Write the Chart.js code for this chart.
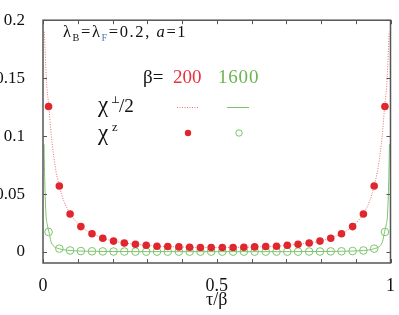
<!DOCTYPE html>
<html>
<head>
<meta charset="utf-8">
<script src="https://cdn.jsdelivr.net/npm/chart.js@4.4.1/dist/chart.umd.min.js"></script>
<style>body{margin:0;background:#fff}</style>
</head>
<body>
<canvas id="myChart" width="399" height="315"></canvas>
<script>
// tau/beta positions of the chi^z symbols
const tauPts = [0.016,0.047,0.078,0.109,0.141,0.172,0.203,0.234,0.266,0.297,0.328,0.359,0.391,0.422,0.453,0.484,
                0.516,0.547,0.578,0.609,0.641,0.672,0.703,0.734,0.766,0.797,0.828,0.859,0.891,0.922,0.953,0.984];
const chiz200 = [0.1256,0.0569,0.0328,0.0219,0.0158,0.0119,0.0094,0.0078,0.0067,0.0058,0.0050,0.0047,0.0044,0.0041,0.0039,0.0038,
                 0.0038,0.0039,0.0041,0.0044,0.0047,0.0050,0.0058,0.0067,0.0078,0.0094,0.0119,0.0158,0.0219,0.0328,0.0569,0.1256];
const chiz1600 = [0.0173,0.0029,0.0013,0.0008,0.0006,0.0005,0.0004,0.0004,0.0003,0.0003,0.0003,0.0003,0.0003,0.0003,0.0003,0.0003,
                  0.0003,0.0003,0.0003,0.0003,0.0003,0.0003,0.0003,0.0003,0.0004,0.0004,0.0005,0.0006,0.0008,0.0013,0.0029,0.0173];

// chi_perp/2 curves
const tauLine200 = [0.004,0.0095,0.017,0.024,0.035,0.047,0.06,0.078,0.093,0.109,0.141,0.172,0.203,0.234,0.266,0.297,0.328,0.359,0.391,0.422,0.453,
                    0.5,
                    0.547,0.578,0.609,0.641,0.672,0.703,0.734,0.766,0.797,0.828,0.859,0.891,0.907,0.922,0.94,0.953,0.965,0.976,0.983,0.9905,0.996];
const chiPerp200 = [0.19,0.15,0.125,0.10,0.074,0.057,0.044,0.033,0.027,0.022,0.016,0.012,0.0094,0.0078,0.0067,0.0058,0.005,0.0047,0.0044,0.0041,0.0039,
                    0.0038,
                    0.0039,0.0041,0.0044,0.0047,0.005,0.0058,0.0067,0.0078,0.0094,0.012,0.016,0.022,0.027,0.033,0.044,0.057,0.074,0.10,0.125,0.15,0.19];
const tauLine1600 = [0.003,0.005,0.0086,0.012,0.017,0.023,0.029,0.047,0.078,0.109,0.141,0.2,0.3,0.4,
                     0.5,
                     0.6,0.7,0.8,0.859,0.891,0.922,0.953,0.971,0.977,0.983,0.988,0.9914,0.995,0.997];
const chiPerp1600 = [0.093,0.062,0.032,0.024,0.0175,0.009,0.0056,0.0028,0.0013,0.0008,0.0006,0.0004,0.0003,0.0003,
                     0.0003,
                     0.0003,0.0003,0.0004,0.0006,0.0008,0.0013,0.0028,0.0056,0.009,0.0175,0.024,0.032,0.062,0.093];

const xTicks = [0,0.1,0.2,0.3,0.4,0.5,0.6,0.7,0.8,0.9,1];
const xLabels = {0:'0', 0.5:'0.5', 1:'1'};
const yTicks = [0,0.05,0.1,0.15,0.2];
const yLabels = ['0','0.05','0.1','0.15','0.2'];

const RED = '#e0262c', GREEN = '#7cc46c';
const SERIF = '"Liberation Serif", "DejaVu Serif", serif';
Chart.defaults.font.family = SERIF;
Chart.defaults.color = '#111';

function pts(xs, ys) { return xs.map((v, i) => ({x: v, y: ys[i]})); }

function runs(ctx, x, y, size, parts, spacing) {
  ctx.letterSpacing = (spacing || 0) + 'px';
  parts.forEach(p => {
    const s = size * (p.scale || 1);
    ctx.font = (p.italic ? 'italic ' : '') + s + 'px ' + SERIF;
    ctx.fillStyle = p.color || '#111';
    if (p.at !== undefined) x = p.at;
    ctx.fillText(p.t, x, y + (p.dy || 0));
    x += ctx.measureText(p.t).width;
  });
  ctx.letterSpacing = '0px';
}

const frame = {
  id: 'frame',
  afterDraw(chart) {
    const {ctx, chartArea: a, scales: {x, y}} = chart;
    ctx.save();
    ctx.strokeStyle = '#555';
    ctx.lineWidth = 1;
    xTicks.forEach(v => {
      const px = Math.round(x.getPixelForValue(v)) + 0.5;
      ctx.beginPath();
      ctx.moveTo(px, a.bottom); ctx.lineTo(px, a.bottom - 4);
      ctx.moveTo(px, a.top); ctx.lineTo(px, a.top + 4);
      ctx.stroke();
    });
    yTicks.forEach(v => {
      const py = Math.round(y.getPixelForValue(v)) + 0.5;
      ctx.beginPath();
      ctx.moveTo(a.left, py); ctx.lineTo(a.left + 4, py);
      ctx.moveTo(a.right, py); ctx.lineTo(a.right - 4, py);
      ctx.stroke();
    });
    ctx.lineWidth = 1.5;
    ctx.strokeRect(a.left, a.top, a.right - a.left, a.bottom - a.top);

    ctx.textBaseline = 'alphabetic';
    runs(ctx, 63, 37, 16.5, [
      {t: 'λ'}, {t: 'B', scale: 0.62, dy: 4}, {t: '=λ'}, {t: 'F', scale: 0.62, dy: 4, color: '#4a78b8'},
      {t: '=0.2, '}, {t: 'a', italic: true}, {t: '=1'}
    ], 1.6);
    runs(ctx, 143, 83, 19, [{t: 'β= '}]);
    runs(ctx, 173, 83, 19, [{t: '200', color: '#e8323c'}]);
    runs(ctx, 218, 83, 19, [{t: '1600', color: '#6bb54f'}], 0.8);
    runs(ctx, 98, 112, 23, [{t: 'χ'}, {t: '⊥', scale: 0.42, dy: -9, at: 111}, {t: '/2', scale: 0.83, at: 119}]);
    runs(ctx, 98, 140, 23, [{t: 'χ'}, {t: 'z', scale: 0.55, dy: -9, at: 112}]);

    // legend samples
    ctx.lineWidth = 1;
    ctx.strokeStyle = 'rgba(230,60,70,0.75)';
    ctx.setLineDash([1, 1.5]);
    ctx.beginPath(); ctx.moveTo(177, 107.5); ctx.lineTo(199, 107.5); ctx.stroke();
    ctx.setLineDash([]);
    ctx.strokeStyle = GREEN;
    ctx.beginPath(); ctx.moveTo(227, 107.5); ctx.lineTo(249, 107.5); ctx.stroke();
    ctx.fillStyle = RED;
    ctx.beginPath(); ctx.arc(188, 133, 3.2, 0, Math.PI * 2); ctx.fill();
    ctx.strokeStyle = GREEN;
    ctx.beginPath(); ctx.arc(239, 133, 3.2, 0, Math.PI * 2); ctx.stroke();
    ctx.restore();
  }
};

new Chart(document.getElementById('myChart'), {
  type: 'scatter',
  data: {
    datasets: [
      {
        data: pts(tauLine200, chiPerp200), showLine: true, pointRadius: 0,
        borderColor: 'rgba(230,60,70,0.75)', borderWidth: 1, borderDash: [1, 1.5],
        cubicInterpolationMode: 'monotone'
      },
      {
        data: pts(tauLine1600, chiPerp1600), showLine: true, pointRadius: 0,
        borderColor: GREEN, borderWidth: 1, cubicInterpolationMode: 'monotone'
      },
      {
        data: pts(tauPts, chiz200), pointRadius: 3.8, pointBackgroundColor: RED,
        pointBorderColor: RED, pointBorderWidth: 0
      },
      {
        data: pts(tauPts, chiz1600), pointRadius: 3.8, pointBackgroundColor: 'rgba(0,0,0,0)',
        pointBorderColor: GREEN, pointBorderWidth: 1
      }
    ]
  },
  options: {
    responsive: false,
    animation: false,
    layout: {padding: {top: 11, right: 7, left: 0, bottom: 0}},
    plugins: {legend: {display: false}, tooltip: {enabled: false}},
    scales: {
      x: {
        type: 'linear', min: 0, max: 1,
        afterBuildTicks: s => { s.ticks = xTicks.map(v => ({value: v})); },
        afterFit: s => { s.height = 52; },
        grid: {display: false}, border: {display: false},
        ticks: {
          autoSkip: false, maxRotation: 0, padding: 4, color: '#111',
          font: {family: SERIF, size: 18},
          callback: v => xLabels[v] || ''
        },
        title: {display: true, text: 'τ/β', color: '#111', font: {family: SERIF, size: 18}, padding: {top: 0, bottom: 4}}
      },
      y: {
        type: 'linear', min: -0.0095, max: 0.2,
        afterBuildTicks: s => { s.ticks = yTicks.map(v => ({value: v})); },
        afterFit: s => { s.width = 43; },
        grid: {display: false}, border: {display: false},
        ticks: {
          padding: 10, color: '#111',
          font: {family: SERIF, size: 17},
          callback: (v, i) => yLabels[i]
        }
      }
    }
  },
  plugins: [frame]
});
</script>
</body>
</html>
